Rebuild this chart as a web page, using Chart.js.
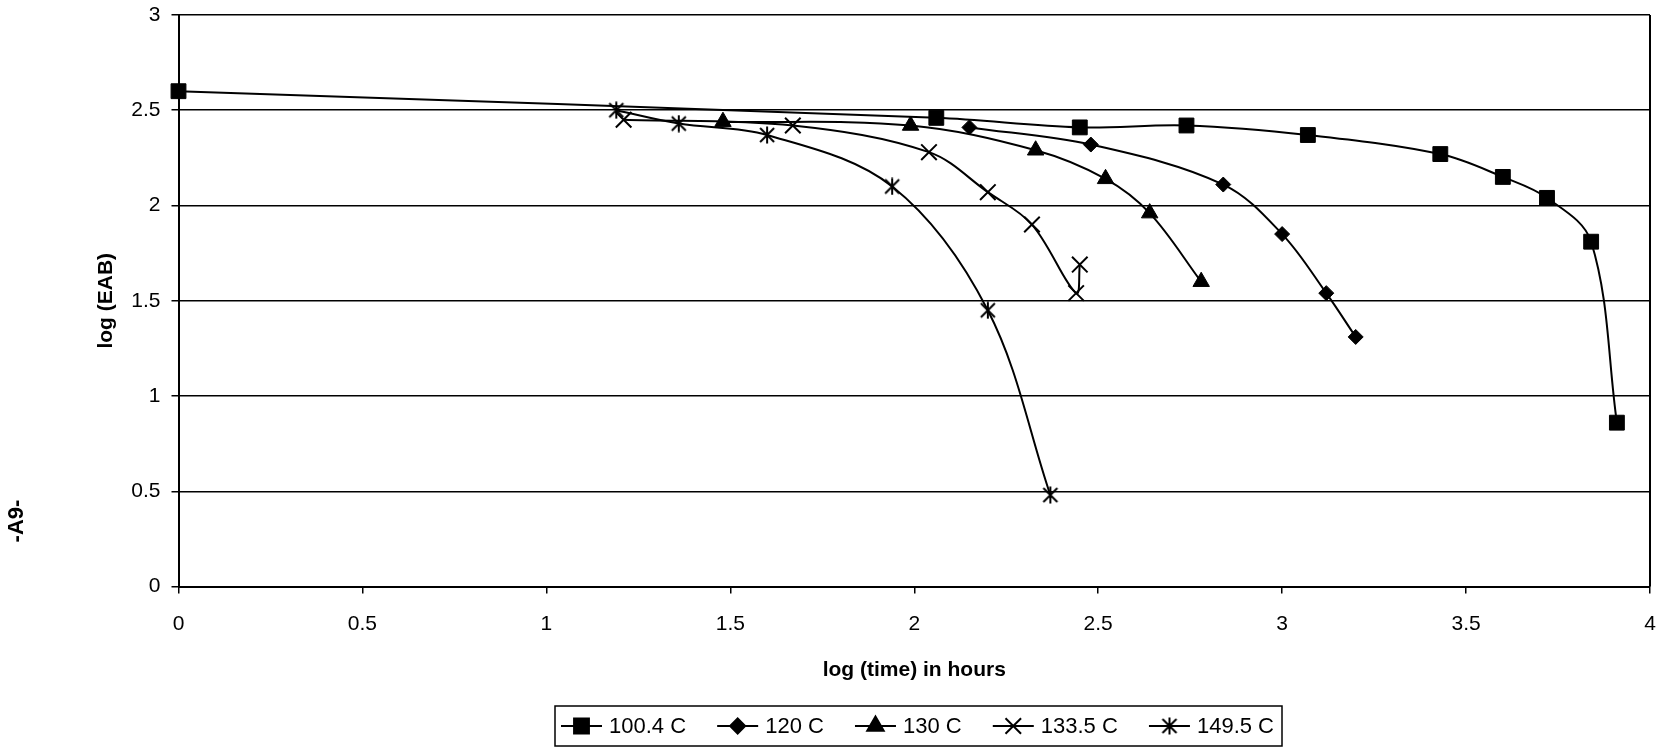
<!DOCTYPE html>
<html>
<head>
<meta charset="utf-8">
<script src="https://cdn.jsdelivr.net/npm/chart.js@4/dist/chart.umd.min.js"></script>
<style>
  html, body { margin: 0; padding: 0; background: #fff; }
  #wrap { position: relative; width: 1666px; height: 749px; }
</style>
</head>
<body>
<div id="wrap"><canvas id="c"></canvas></div>
<script>
// ---------- data ----------
const seriesNames = ['100.4 C', '120 C', '130 C', '133.5 C', '149.5 C'];

const x1004 = [0, 2.06, 2.45, 2.74, 3.07, 3.43, 3.60, 3.72, 3.84, 3.91];
const y1004 = [2.60, 2.46, 2.41, 2.42, 2.37, 2.27, 2.15, 2.04, 1.81, 0.86];

const x120 = [2.15, 2.48, 2.84, 3.00, 3.12, 3.20];
const y120 = [2.41, 2.32, 2.11, 1.85, 1.54, 1.31];

const x130 = [1.48, 1.99, 2.33, 2.52, 2.64, 2.78];
const y130 = [2.44, 2.42, 2.29, 2.14, 1.96, 1.60];

const x1335 = [1.21, 1.67, 2.04, 2.20, 2.32, 2.44, 2.45];
const y1335 = [2.45, 2.42, 2.28, 2.07, 1.90, 1.54, 1.69];

const x1495 = [1.19, 1.36, 1.60, 1.94, 2.20, 2.37];
const y1495 = [2.50, 2.43, 2.37, 2.10, 1.45, 0.48];

const xTickLabels = ['0', '0.5', '1', '1.5', '2', '2.5', '3', '3.5', '4'];
const yTickLabels = ['0', '0.5', '1', '1.5', '2', '2.5', '3'];
const xAxisTitle = 'log (time) in hours';
const yAxisTitle = 'log (EAB)';
const pageMark = '-A9-';

// ---------- helpers ----------
const FONT = '"Liberation Sans", Arial, sans-serif';
function pts(xs, ys) { return xs.map((x, i) => ({ x: x, y: ys[i] })); }

function makeAsterisk(size, lw) {
  const c = document.createElement('canvas');
  c.width = size; c.height = size;
  const g = c.getContext('2d');
  g.strokeStyle = '#000'; g.lineWidth = lw;
  const m = 2, s = size;
  g.beginPath();
  g.moveTo(m, m); g.lineTo(s - m, s - m);
  g.moveTo(s - m, m); g.lineTo(m, s - m);
  g.moveTo(s / 2, 0.5); g.lineTo(s / 2, s - 0.5);
  g.stroke();
  return c;
}
const asterisk = makeAsterisk(18, 2);

const markerStyles = [
  { pointStyle: 'rect', radius: 10.5, bw: 1 },
  { pointStyle: 'rectRot', radius: 7.5, bw: 1 },
  { pointStyle: 'triangle', radius: 9.5, bw: 1 },
  { pointStyle: 'crossRot', radius: 11, bw: 2 },
  { pointStyle: asterisk, radius: 9, bw: 2 }
];

const seriesData = [pts(x1004, y1004), pts(x120, y120), pts(x130, y130), pts(x1335, y1335), pts(x1495, y1495)];

const datasets = seriesNames.map((name, i) => ({
  label: name,
  data: seriesData[i],
  showLine: true,
  borderColor: '#000',
  borderWidth: 2,
  backgroundColor: '#000',
  pointStyle: markerStyles[i].pointStyle,
  pointRadius: markerStyles[i].radius,
  pointHoverRadius: markerStyles[i].radius,
  pointBorderWidth: markerStyles[i].bw,
  pointBackgroundColor: '#000',
  pointBorderColor: '#000',
  tension: 0.35,
  clip: false
}));

// ---------- decorations: frame, titles, legend, page mark ----------
const decor = {
  id: 'decor',
  afterDraw(chart) {
    const ctx = chart.ctx;
    const a = chart.chartArea;
    ctx.save();
    // right border of plot
    ctx.strokeStyle = '#000';
    ctx.lineWidth = 2;
    ctx.beginPath();
    ctx.moveTo(a.right, a.top);
    ctx.lineTo(a.right, a.bottom);
    ctx.stroke();

    ctx.fillStyle = '#000';
    // x axis title
    ctx.font = 'bold 21px ' + FONT;
    ctx.textAlign = 'center';
    ctx.textBaseline = 'middle';
    ctx.fillText(xAxisTitle, (a.left + a.right) / 2, 670);
    // y axis title
    ctx.save();
    ctx.translate(106, (a.top + a.bottom) / 2);
    ctx.rotate(-Math.PI / 2);
    ctx.fillText(yAxisTitle, 0, 0);
    ctx.restore();

    // page mark
    ctx.save();
    ctx.font = 'bold 22px ' + FONT;
    ctx.translate(17, 521);
    ctx.rotate(-Math.PI / 2);
    ctx.fillText(pageMark, 0, 0);
    ctx.restore();

    // legend
    const boxL = 555, boxR = 1282, boxT = 706, boxB = 746;
    const cy = (boxT + boxB) / 2;
    ctx.lineWidth = 1.5;
    ctx.strokeRect(boxL, boxT, boxR - boxL, boxB - boxT);
    ctx.font = '22px ' + FONT;
    ctx.textAlign = 'left';
    const sampleW = 41, gap = 7, padL = 6, padR = 8;
    const widths = seriesNames.map(n => ctx.measureText(n).width);
    const total = widths.reduce((s, w) => s + w, 0) + seriesNames.length * (sampleW + gap);
    const spacing = (boxR - boxL - padL - padR - total) / (seriesNames.length - 1);
    let x = boxL + padL;
    seriesNames.forEach((n, i) => {
      ctx.strokeStyle = '#000';
      ctx.lineWidth = 2;
      ctx.beginPath();
      ctx.moveTo(x, cy); ctx.lineTo(x + sampleW, cy);
      ctx.stroke();
      ctx.fillStyle = '#000';
      Chart.helpers.drawPoint(ctx, {
        pointStyle: markerStyles[i].pointStyle,
        radius: markerStyles[i].radius,
        rotation: 0,
        borderWidth: markerStyles[i].bw
      }, x + sampleW / 2, cy);
      ctx.fillStyle = '#000';
      ctx.fillText(n, x + sampleW + gap, cy + 1);
      x += sampleW + gap + widths[i] + spacing;
    });
    ctx.restore();
  }
};

const tickFont = { family: FONT, size: 21 };

new Chart(document.getElementById('c'), {
  type: 'scatter',
  data: { datasets: datasets },
  options: {
    responsive: true,
    maintainAspectRatio: false,
    animation: false,
    events: [],
    layout: { padding: { left: 0, top: 15, right: 16, bottom: 0 } },
    plugins: { legend: { display: false }, tooltip: { enabled: false } },
    scales: {
      x: {
        type: 'linear',
        min: 0, max: 4,
        afterFit(s) {
          s.height = 749 - 586.5;
          s.paddingLeft = 0; s.paddingRight = 0; s.paddingTop = 0; s.paddingBottom = 0;
        },
        ticks: {
          stepSize: 0.5,
          autoSkip: false,
          maxRotation: 0,
          color: '#000',
          font: tickFont,
          padding: 18,
          callback: (v, i) => xTickLabels[i]
        },
        grid: { display: true, drawOnChartArea: false, drawTicks: true, tickLength: 7, color: '#000', lineWidth: 1.5 },
        border: { display: true, color: '#000', width: 2 }
      },
      y: {
        type: 'linear',
        min: 0, max: 3,
        afterFit(s) {
          s.width = 178.5;
          s.paddingLeft = 0; s.paddingRight = 0; s.paddingTop = 0; s.paddingBottom = 0;
        },
        ticks: {
          stepSize: 0.5,
          autoSkip: false,
          color: '#000',
          font: tickFont,
          padding: 11,
          callback: (v, i) => yTickLabels[i]
        },
        grid: { display: true, drawOnChartArea: true, drawTicks: true, tickLength: 7, color: '#000', lineWidth: 1.5 },
        border: { display: true, color: '#000', width: 2 }
      }
    }
  },
  plugins: [decor]
});
</script>
</body>
</html>
